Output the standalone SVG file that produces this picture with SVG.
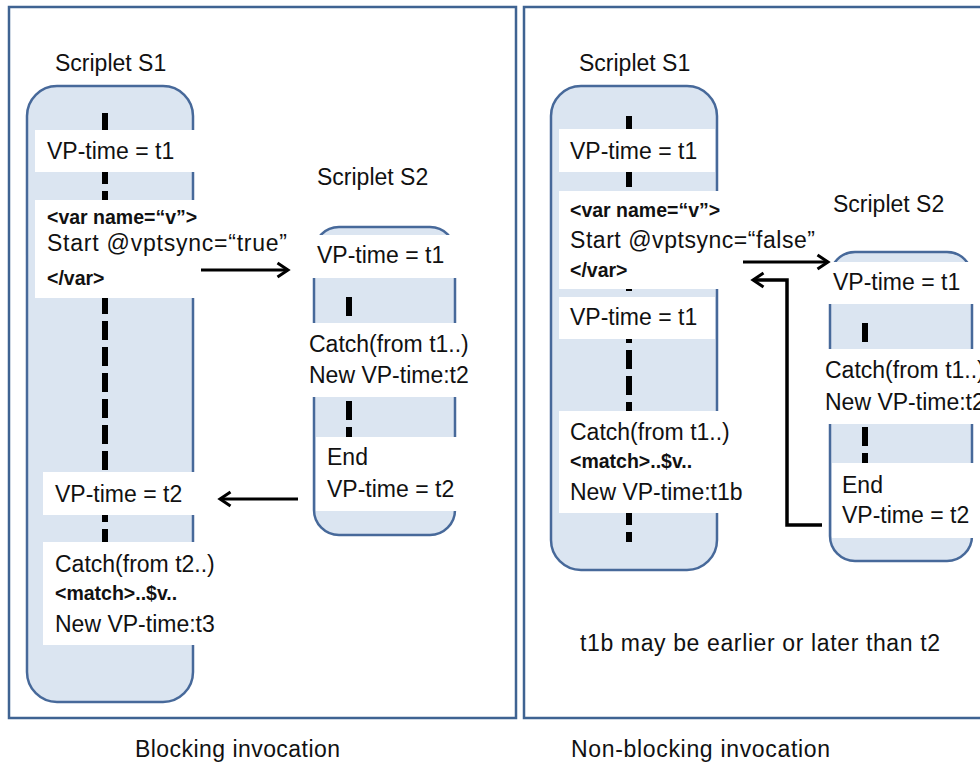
<svg xmlns="http://www.w3.org/2000/svg" width="980" height="765" viewBox="0 0 980 765">
  <defs>
    <style>
      .panel { fill: #ffffff; stroke: #3f6392; stroke-width: 2.5; }
      .lane { fill: #dbe5f1; stroke: #47699a; stroke-width: 2.5; }
      .slot { fill: #ffffff; }
      .life { stroke: #000000; stroke-width: 6; stroke-dasharray: 19 7; fill: none; }
      .t { font-family: "Liberation Sans", Arial, sans-serif; font-size: 23px; fill: #111111; }
      .b { font-family: "Liberation Sans", Arial, sans-serif; font-size: 19.5px; font-weight: bold; fill: #111111; }
      .flow { stroke: #000000; stroke-width: 3; fill: none; marker-end: url(#head); }
      .flow.heavy { stroke-width: 3.5; }
    </style>
    <marker id="head" viewBox="0 0 14 16" refX="12.5" refY="8" markerWidth="14" markerHeight="16" markerUnits="userSpaceOnUse" orient="auto" overflow="visible">
      <path d="M2,1 L12.5,8 L2,15" fill="none" stroke="#000000" stroke-width="3"/>
    </marker>
  </defs>

  <rect x="0" y="0" width="980" height="765" fill="#ffffff"/>

  <!-- Left panel: blocking invocation -->
  <g id="panel-blocking">
    <rect class="panel" x="9" y="7" width="507" height="711"/>
    <text class="t" x="135" y="757" textLength="205" lengthAdjust="spacing">Blocking invocation</text>
  </g>

  <g id="blocking-s1">
    <text class="t" x="55" y="71">Scriplet S1</text>
    <rect class="lane" x="27" y="86" width="166" height="616" rx="30" ry="30"/>
    <line class="life" x1="105" y1="113" x2="105" y2="542"/>
    <rect class="slot" x="35" y="130" width="160" height="42"/>
    <text class="t" x="47" y="159">VP-time = t1</text>
    <rect class="slot" x="35" y="200" width="160" height="98"/>
    <text class="b" x="47" y="224">&lt;var name=“v”&gt;</text>
    <text class="t" x="47" y="251" textLength="240" lengthAdjust="spacing">Start @vptsync=“true”</text>
    <text class="b" x="47" y="285">&lt;/var&gt;</text>
    <rect class="slot" x="43" y="472" width="152" height="43"/>
    <text class="t" x="55" y="502">VP-time = t2</text>
    <rect class="slot" x="43" y="542" width="152" height="103"/>
    <text class="t" x="55" y="572">Catch(from t2..)</text>
    <text class="b" x="55" y="600">&lt;match&gt;..$v..</text>
    <text class="t" x="55" y="632">New VP-time:t3</text>
  </g>

  <g id="blocking-s2">
    <text class="t" x="317" y="185">Scriplet S2</text>
    <rect class="lane" x="314" y="227" width="141" height="308" rx="25" ry="25"/>
    <line class="life" x1="349" y1="297" x2="349" y2="437"/>
    <rect class="slot" x="305" y="235" width="158" height="43"/>
    <text class="t" x="317" y="263">VP-time = t1</text>
    <rect class="slot" x="300" y="323" width="180" height="74"/>
    <text class="t" x="309" y="352">Catch(from t1..)</text>
    <text class="t" x="309" y="383">New VP-time:t2</text>
    <rect class="slot" x="316" y="437" width="142" height="74"/>
    <text class="t" x="327" y="465">End</text>
    <text class="t" x="327" y="497">VP-time = t2</text>
  </g>

  <!-- Right panel: non-blocking invocation -->
  <g id="panel-nonblocking">
    <rect class="panel" x="524" y="7" width="470" height="711"/>
    <text class="t" x="580" y="651" textLength="360" lengthAdjust="spacing">t1b may be earlier or later than t2</text>
    <text class="t" x="571" y="757" textLength="259" lengthAdjust="spacing">Non-blocking invocation</text>
  </g>

  <g id="nonblocking-s1">
    <text class="t" x="579" y="71">Scriplet S1</text>
    <rect class="lane" x="551" y="86" width="166" height="484" rx="30" ry="30"/>
    <line class="life" x1="629" y1="116" x2="629" y2="542"/>
    <rect class="slot" x="559" y="129" width="156" height="43"/>
    <text class="t" x="570" y="159">VP-time = t1</text>
    <rect class="slot" x="559" y="191" width="160" height="98"/>
    <text class="b" x="570" y="217">&lt;var name=“v”&gt;</text>
    <text class="t" x="570" y="248" textLength="245" lengthAdjust="spacing">Start @vptsync=“false”</text>
    <text class="b" x="570" y="277">&lt;/var&gt;</text>
    <rect class="slot" x="559" y="297" width="156" height="42"/>
    <text class="t" x="570" y="325">VP-time = t1</text>
    <rect class="slot" x="559" y="411" width="160" height="102"/>
    <text class="t" x="570" y="440">Catch(from t1..)</text>
    <text class="b" x="570" y="468">&lt;match&gt;..$v..</text>
    <text class="t" x="570" y="500">New VP-time:t1b</text>
  </g>

  <g id="nonblocking-s2">
    <text class="t" x="833" y="212">Scriplet S2</text>
    <rect class="lane" x="830" y="252" width="142" height="309" rx="25" ry="25"/>
    <line class="life" x1="865" y1="323" x2="865" y2="463"/>
    <rect class="slot" x="822" y="262" width="160" height="42"/>
    <text class="t" x="833" y="290">VP-time = t1</text>
    <rect class="slot" x="815" y="349" width="170" height="75"/>
    <text class="t" x="825" y="378">Catch(from t1..)</text>
    <text class="t" x="825" y="410">New VP-time:t2</text>
    <rect class="slot" x="832" y="463" width="143" height="75"/>
    <text class="t" x="842" y="493">End</text>
    <text class="t" x="842" y="523">VP-time = t2</text>
  </g>

  <!-- Invocation and return connectors -->
  <g id="connectors">
    <path class="flow" d="M201,270 H288"/>
    <path class="flow" d="M298,499 H220"/>
    <path class="flow" d="M743,262 H828"/>
    <path class="flow heavy" d="M822,525 H787 V280 H753"/>
  </g>
</svg>
